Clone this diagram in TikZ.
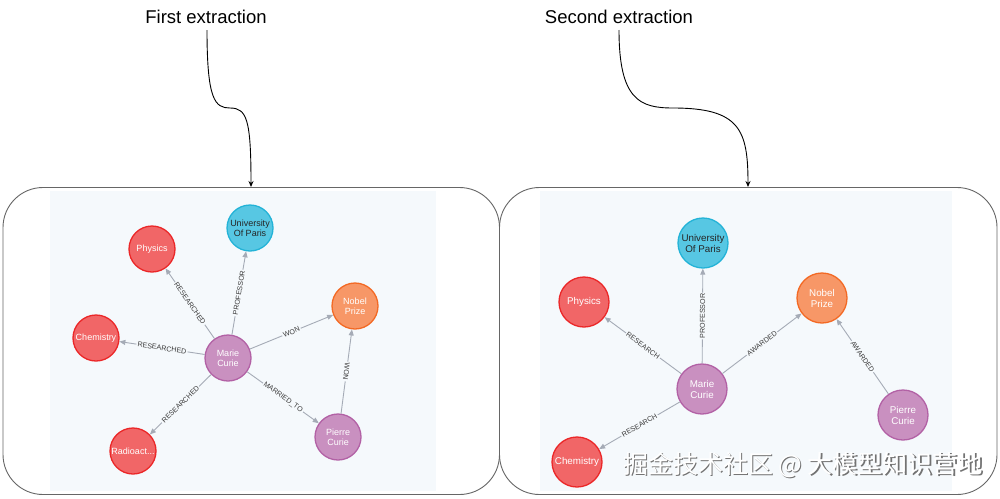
\documentclass[tikz,border=0pt]{standalone}
\usepackage{fontspec}
\setmainfont{Liberation Sans}
\newfontfamily\cjkfont{Noto Sans CJK SC}
\usetikzlibrary{arrows.meta}
\definecolor{bgblue}{HTML}{F5F9FC}
\definecolor{edgegray}{HTML}{A5ABB6}
\definecolor{labelgray}{HTML}{3A3A3A}
\definecolor{redfill}{HTML}{F16667}
\definecolor{redline}{HTML}{EB2728}
\definecolor{bluefill}{HTML}{57C7E3}
\definecolor{blueline}{HTML}{23B3D7}
\definecolor{orangefill}{HTML}{F79767}
\definecolor{orangeline}{HTML}{F36924}
\definecolor{purplefill}{HTML}{C990C0}
\definecolor{purpleline}{HTML}{B261A5}
\definecolor{boxgray}{HTML}{666666}
\tikzset{
  gnode/.style={circle, inner sep=0pt, line width=1.3pt, align=center, text=white},
  lsize/.style={minimum size=46pt, font=\fontsize{9}{10}\selectfont},
  rsize/.style={minimum size=50pt, font=\fontsize{9.8}{11}\selectfont},
  topicnode/.style={gnode, fill=redfill, draw=redline},
  placenode/.style={gnode, fill=bluefill, draw=blueline, text=black!85},
  prizenode/.style={gnode, fill=orangefill, draw=orangeline},
  personnode/.style={gnode, fill=purplefill, draw=purpleline},
  edge/.style={draw=edgegray, line width=0.9pt, -{Triangle[length=6pt,width=5pt]}},
  elabel/.style={font=\fontsize{7.1}{7.5}\selectfont, text=labelgray, fill=bgblue, inner sep=1.2pt, sloped, midway},
  panel/.style={draw=boxgray, line width=0.9pt, rounded corners=40pt},
  pointer/.style={draw=black, line width=0.9pt, -{Stealth[length=6pt,width=5pt]}},
  title/.style={font=\fontsize{18.5}{20}\selectfont, text=black},
  wmark/.style={font=\cjkfont\fontsize{25}{26}\selectfont}
}
\begin{document}
\begin{tikzpicture}[x=1pt,y=-1pt]
\useasboundingbox (0,0) rectangle (1000,498);
\fill[white] (0,0) rectangle (1000,498);
% image backgrounds
\fill[bgblue] (50,191) rectangle (436,491);
\fill[bgblue] (540,191) rectangle (952,491);
% panels
\draw[panel] (3,187.5) rectangle (499.5,494.5);
\draw[panel] (499.5,187.5) rectangle (997,494.5);
% titles
\node[title] (t1) at (206,17) {First extraction};
\node[title] (t2) at (619,17) {Second extraction};
\coordinate (a1) at (251,187);
\coordinate (a2) at (748,187);
\draw[pointer] (207,30) .. controls (207,100) and (215,108) .. (230,108) .. controls (247,108) and (251,120) .. (a1);
\draw[pointer] (619,30) .. controls (619,100) and (640,108) .. (673,108) .. controls (740,108) and (748,130) .. (a2);
% left graph
\node[topicnode, lsize] (lphys) at (152,249) {Physics};
\node[placenode, lsize] (luni) at (250,228) {University\\Of Paris};
\node[prizenode, lsize] (lnobel) at (355,306) {Nobel\\Prize};
\node[topicnode, lsize] (lchem) at (96,338) {Chemistry};
\node[personnode, lsize] (lmarie) at (228,358) {Marie\\Curie};
\node[topicnode, lsize] (lradio) at (133,451) {Radioact...};
\node[personnode, lsize] (lpierre) at (338,437) {Pierre\\Curie};
\draw[edge] (lmarie) -- node[elabel]{RESEARCHED} (lphys);
\draw[edge] (lmarie) -- node[elabel]{PROFESSOR} (luni);
\draw[edge] (lmarie) -- node[elabel]{RESEARCHED} (lchem);
\draw[edge] (lmarie) -- node[elabel]{WON} (lnobel);
\draw[edge] (lmarie) -- node[elabel]{RESEARCHED} (lradio);
\draw[edge] (lmarie) -- node[elabel]{MARRIED\_TO} (lpierre);
\draw[draw=edgegray, line width=0.9pt, {Triangle[length=6pt,width=5pt]}-] (lnobel) -- node[elabel, allow upside down]{WON} (lpierre);
% right graph
\node[placenode, rsize] (runi) at (703,243) {University\\Of Paris};
\node[topicnode, rsize] (rphys) at (584,302) {Physics};
\node[prizenode, rsize] (rnobel) at (822,298) {Nobel\\Prize};
\node[personnode, rsize] (rmarie) at (702,389) {Marie\\Curie};
\node[personnode, rsize] (rpierre) at (903,415) {Pierre\\Curie};
\node[topicnode, rsize] (rchem) at (577,462) {Chemistry};
\draw[edge] (rmarie) -- node[elabel]{RESEARCH} (rphys);
\draw[edge] (rmarie) -- node[elabel]{PROFESSOR} (runi);
\draw[edge] (rmarie) -- node[elabel]{AWARDED} (rnobel);
\draw[edge] (rmarie) -- node[elabel]{RESEARCH} (rchem);
\draw[edge] (rpierre) -- node[elabel]{AWARDED} (rnobel);
% watermark
\node[wmark, text=black!55] (wms) at (804.3,466.3) {掘金技术社区 @ 大模型知识营地};
\node[wmark, text=white] (wm) at (803,465) {掘金技术社区 @ 大模型知识营地};
\end{tikzpicture}
\end{document}
